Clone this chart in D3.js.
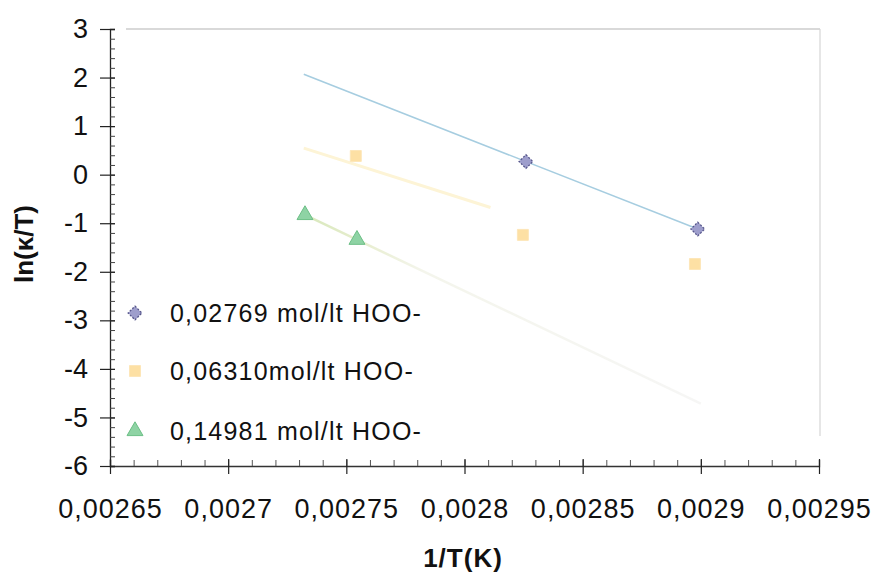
<!DOCTYPE html>
<html>
<head>
<meta charset="utf-8">
<script src="https://cdn.jsdelivr.net/npm/d3@7"></script>
<style>
  html, body { margin: 0; padding: 0; background: #fff; }
  svg { display: block; font-family: "Liberation Sans", Arial, sans-serif; }
</style>
</head>
<body>
<svg id="chart" width="875" height="574"></svg>
<script>
// Axis ticks and labels (decimal comma)
const xTicks = [0.00265, 0.0027, 0.00275, 0.0028, 0.00285, 0.0029, 0.00295];
const xTickLabels = ["0,00265", "0,0027", "0,00275", "0,0028", "0,00285", "0,0029", "0,00295"];
const yTicks = [3, 2, 1, 0, -1, -2, -3, -4, -5, -6];
const yTickLabels = ["3", "2", "1", "0", "-1", "-2", "-3", "-4", "-5", "-6"];

// Series: HOO- concentrations
const seriesNames = ["0,02769 mol/lt HOO-", "0,06310mol/lt HOO-", "0,14981 mol/lt HOO-"];
const xA = [0.002826, 0.0028987];
const yA = [0.27, -1.12];
const xB = [0.002754, 0.0028247, 0.0028975];
const yB = [0.385, -1.24, -1.84];
const xC = [0.0027325, 0.0027545];
const yC = [-0.83, -1.34];

// Linear trendline extents per series
const trendFrom = [0.002732, 0.002732, 0.0027325];
const trendTo = [0.0028987, 0.002811, 0.0029];

const svg = d3.select("#chart");
const plotLeft = 110, plotRight = 819, plotTop = 29, plotBottom = 466;

const x = d3.scaleLinear().domain([0.00265, 0.00295]).range([plotLeft, plotRight]);
const y = d3.scaleLinear().domain([-6, 3]).range([plotBottom, plotTop]);

// Plot-area frame (top and right, light grey)
svg.append("line").attr("x1", plotLeft + 16).attr("x2", plotRight + 1).attr("y1", plotTop).attr("y2", plotTop)
  .attr("stroke", "#cccccc").attr("stroke-width", 1.5);
svg.append("line").attr("x1", plotRight + 1).attr("x2", plotRight + 1).attr("y1", plotTop).attr("y2", plotBottom - 30)
  .attr("stroke", "#d6d6d6").attr("stroke-width", 1.2);

// Least-squares fit
function fit(xs, ys) {
  const mx = d3.mean(xs), my = d3.mean(ys);
  let sxy = 0, sxx = 0;
  xs.forEach((v, i) => { sxy += (v - mx) * (ys[i] - my); sxx += (v - mx) * (v - mx); });
  const b = sxy / sxx;
  return t => my + b * (t - mx);
}

const series = [
  { xs: xA, ys: yA, line: "#a6cde0", width: 1.6 },
  { xs: xB, ys: yB, line: "#fdf4d6", width: 3 },
  { xs: xC, ys: yC, line: "url(#greenFade)", width: 2.5 }
];

// Trendlines
const defs = svg.append("defs");
series.forEach((s, i) => {
  const f = fit(s.xs, s.ys);
  const p0 = [x(trendFrom[i]), y(f(trendFrom[i]))];
  const p1 = [x(trendTo[i]), y(f(trendTo[i]))];
  if (i === 2) {
    const g = defs.append("linearGradient").attr("id", "greenFade")
      .attr("gradientUnits", "userSpaceOnUse")
      .attr("x1", p0[0]).attr("y1", p0[1]).attr("x2", p1[0]).attr("y2", p1[1]);
    g.append("stop").attr("offset", 0).attr("stop-color", "#d8e8bc");
    g.append("stop").attr("offset", 0.15).attr("stop-color", "#e8eed0");
    g.append("stop").attr("offset", 0.3).attr("stop-color", "#f4f5ec");
    g.append("stop").attr("offset", 1).attr("stop-color", "#f6f6f5");
  }
  svg.append("path")
    .attr("d", d3.line()([p0, p1]))
    .attr("fill", "none").attr("stroke", s.line).attr("stroke-width", s.width);
});

// Markers
const diamond = d3.symbol().type(d3.symbolDiamond2).size(120);
const square = d3.symbol().type(d3.symbolSquare).size(120);
const triangle = d3.symbol().type(d3.symbolTriangle).size(110);

function drawMarker(g, k) {
  if (k === 0) {
    g.append("path").attr("d", diamond()).attr("fill", "#9e9ecc").attr("stroke", "#55558a").attr("stroke-width", 1.3)
      .attr("stroke-dasharray", "2,1.5");
  } else if (k === 1) {
    g.append("path").attr("d", square()).attr("fill", "#fde0a4").attr("stroke", "#fde6b8").attr("stroke-width", 1);
  } else {
    g.append("path").attr("d", triangle()).attr("fill", "#8ed3a4").attr("stroke", "#6cbf86").attr("stroke-width", 1);
  }
}

series.forEach((s, k) => {
  s.xs.forEach((v, i) => {
    const g = svg.append("g").attr("transform", `translate(${x(v)},${y(s.ys[i])})`);
    drawMarker(g, k);
  });
});

// X axis
const xMinor = d3.range(0, 31).map(i => 0.00265 + i * 0.00001);
svg.append("g").attr("transform", `translate(0,${plotBottom})`)
  .call(d3.axisBottom(x).tickValues(xMinor).tickSize(-6).tickFormat(""))
  .call(g => g.select(".domain").attr("stroke", "#333").attr("stroke-width", 1.3))
  .call(g => g.selectAll(".tick line").attr("stroke", "#555"));
svg.append("g").attr("transform", `translate(0,${plotBottom})`)
  .call(d3.axisBottom(x).tickValues(xTicks).tickSizeInner(8).tickSizeOuter(0).tickPadding(25)
    .tickFormat((d, i) => xTickLabels[i]))
  .call(g => g.select(".domain").remove())
  .call(g => g.selectAll(".tick line").attr("y1", -7).attr("stroke", "#222").attr("stroke-width", 1.2))
  .call(g => g.selectAll(".tick text").attr("font-size", 27).attr("letter-spacing", 1).attr("fill", "#111")
    .attr("font-family", "'Liberation Sans', Arial, sans-serif"));

// Y axis
const yMinor = d3.range(0, 46).map(i => -6 + i * 0.2);
svg.append("g").attr("transform", `translate(${plotLeft},0)`)
  .call(d3.axisLeft(y).tickValues(yMinor).tickSize(-5).tickFormat(""))
  .call(g => g.select(".domain").attr("stroke", "#222").attr("stroke-width", 1.3))
  .call(g => g.selectAll(".tick line").attr("stroke", "#444"));
svg.append("g").attr("transform", `translate(${plotLeft},0)`)
  .call(d3.axisLeft(y).tickValues(yTicks).tickSizeInner(10).tickSizeOuter(0).tickPadding(12)
    .tickFormat((d, i) => yTickLabels[i]))
  .call(g => g.select(".domain").remove())
  .call(g => g.selectAll(".tick line").attr("x1", 5).attr("stroke", "#222").attr("stroke-width", 1.2))
  .call(g => g.selectAll(".tick text").attr("font-size", 27).attr("fill", "#111")
    .attr("font-family", "'Liberation Sans', Arial, sans-serif"));

// Axis titles
svg.append("text").attr("x", 463).attr("y", 567).attr("text-anchor", "middle")
  .attr("font-size", 26).attr("font-weight", "bold").attr("letter-spacing", 1).attr("fill", "#111")
  .text("1/T(K)");
svg.append("text").attr("transform", "translate(33,244) rotate(-90)").attr("text-anchor", "middle")
  .attr("font-size", 26).attr("font-weight", "bold").attr("fill", "#111")
  .text("ln(κ/T)");

// Legend
const legendY = [313, 371, 431];
seriesNames.forEach((name, k) => {
  const g = svg.append("g").attr("transform", `translate(135,${legendY[k]})`);
  drawMarker(g, k);
  svg.append("text").attr("x", 170).attr("y", legendY[k]).attr("dy", "0.35em")
    .attr("font-size", 25).attr("letter-spacing", 1.2).attr("fill", "#111")
    .text(name);
});
</script>
</body>
</html>
